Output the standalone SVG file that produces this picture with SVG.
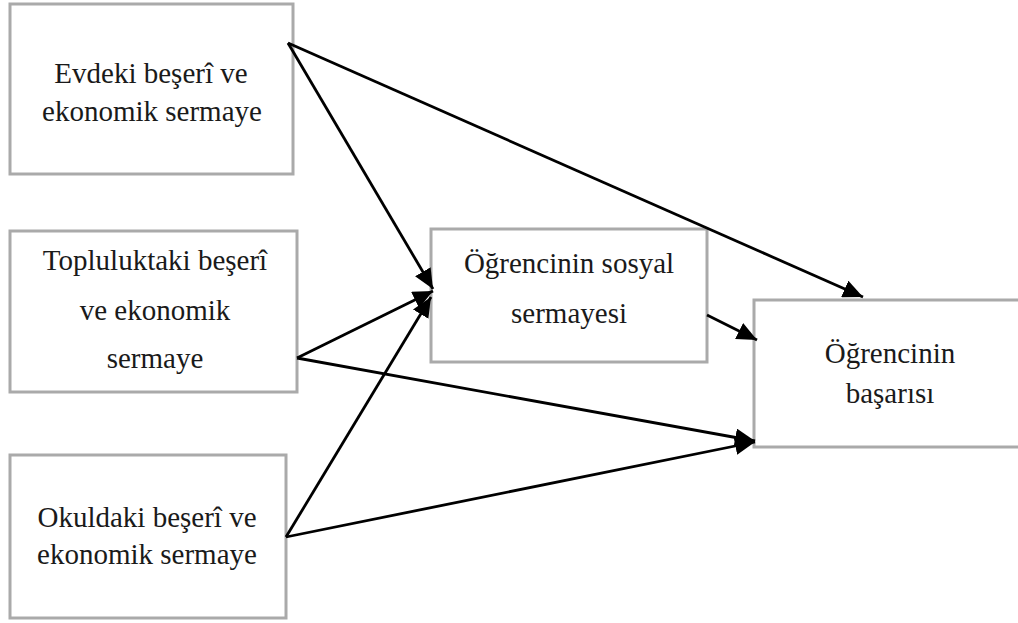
<svg xmlns="http://www.w3.org/2000/svg" width="1018" height="623" viewBox="0 0 1018 623">
<style>
.box{fill:#fff;stroke:#aaaaaa;stroke-width:3}
.lbl{font-family:"Liberation Serif","Times New Roman",serif;font-size:29px;fill:#1a1a1a;text-anchor:middle}
.conn{stroke:#000;stroke-width:2.8;fill:none;marker-end:url(#ah)}
</style>
<defs>
<marker id="ah" markerUnits="userSpaceOnUse" markerWidth="22" markerHeight="18" refX="20" refY="9" orient="auto">
<path d="M0,0 L20,9 L0,18 Z" fill="#000"/>
</marker>
</defs>
<rect width="1018" height="623" fill="#fff"/>
<g id="n1">
<rect class="box" x="10" y="4" width="283" height="170"/>
<text class="lbl" x="151" y="83">Evdeki beşerî ve</text>
<text class="lbl" x="152" y="121">ekonomik sermaye</text>
</g>
<g id="n2">
<rect class="box" x="10" y="231" width="287" height="161"/>
<text class="lbl" x="155" y="270">Topluluktaki beşerî</text>
<text class="lbl" x="155" y="320">ve ekonomik</text>
<text class="lbl" x="155" y="368">sermaye</text>
</g>
<g id="n3">
<rect class="box" x="10" y="455" width="276" height="163"/>
<text class="lbl" x="147" y="527">Okuldaki beşerî ve</text>
<text class="lbl" x="147" y="564">ekonomik sermaye</text>
</g>
<g id="n4">
<rect class="box" x="431" y="229" width="276" height="133"/>
<text class="lbl" x="569" y="273">Öğrencinin sosyal</text>
<text class="lbl" x="569" y="323">sermayesi</text>
</g>
<g id="n5">
<rect class="box" x="754" y="300" width="280" height="147"/>
<text class="lbl" x="890" y="363">Öğrencinin</text>
<text class="lbl" x="890" y="403">başarısı</text>
</g>
<g id="connectors">
<line class="conn" x1="288" y1="43" x2="433" y2="289"/>
<line class="conn" x1="288" y1="43" x2="863" y2="297"/>
<line class="conn" x1="297" y1="358" x2="433" y2="291"/>
<line class="conn" x1="297" y1="358" x2="755" y2="441"/>
<line class="conn" x1="286" y1="537" x2="431" y2="297"/>
<line class="conn" x1="286" y1="537" x2="755" y2="442"/>
<line class="conn" x1="707" y1="315" x2="757" y2="340"/>
</g>
</svg>
